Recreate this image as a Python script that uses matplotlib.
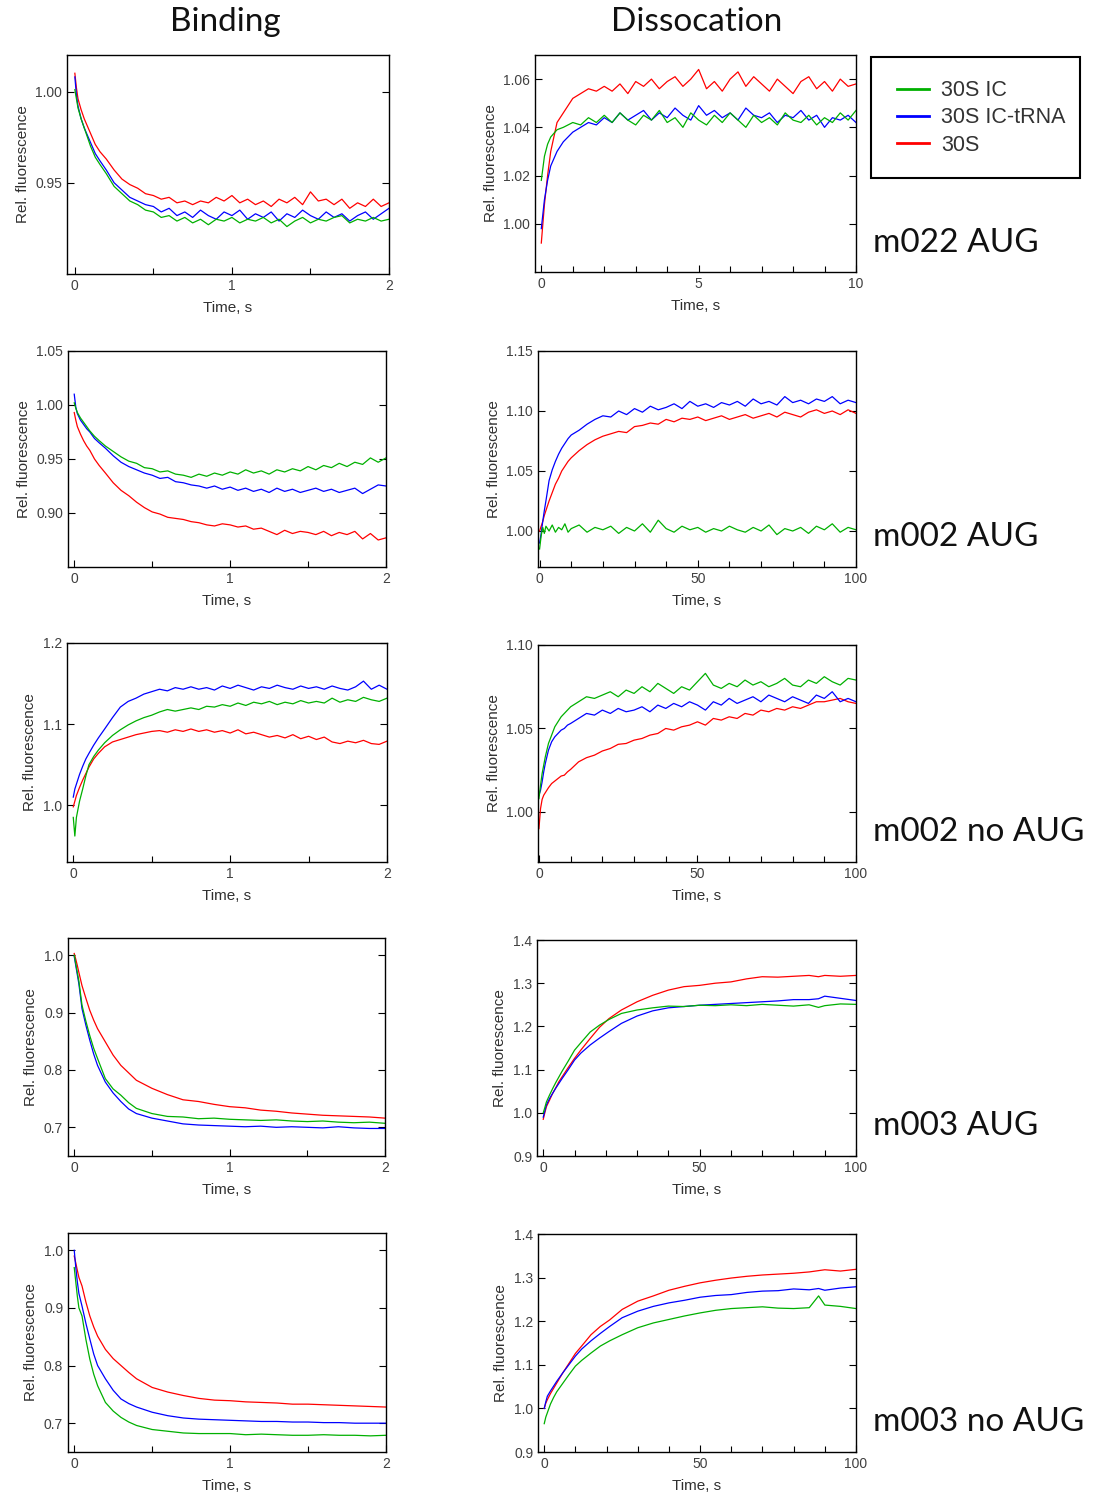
import matplotlib
matplotlib.use("Agg")
import matplotlib.pyplot as plt
from matplotlib.patches import Rectangle
from matplotlib.ticker import MultipleLocator, FormatStrFormatter

# series names and colours
labels = ['30S IC', '30S IC-tRNA', '30S']
colors = {'30S IC': '#00b000', '30S IC-tRNA': '#0000ff', '30S': '#ff0000'}

col_titles = ['Binding', 'Dissocation']
row_titles = ['m022 AUG', 'm002 AUG', 'm002 no AUG', 'm003 AUG', 'm003 no AUG']

# time grids (s)
t_bind = [0, 0.01, 0.02, 0.04, 0.06, 0.08, 0.1, 0.13, 0.16, 0.2,
          0.25, 0.3, 0.35, 0.4, 0.45, 0.5, 0.55, 0.6, 0.65, 0.7, 0.75, 0.8,
          0.85, 0.9, 0.95, 1.0, 1.05, 1.1, 1.15, 1.2, 1.25, 1.3, 1.35, 1.4,
          1.45, 1.5, 1.55, 1.6, 1.65, 1.7, 1.75, 1.8, 1.85, 1.9, 1.95, 2.0]
t_bind_s = [0, 0.01, 0.02, 0.03, 0.05, 0.075, 0.1, 0.125, 0.15, 0.2, 0.25,
            0.3, 0.35, 0.4, 0.5, 0.6, 0.7, 0.8, 0.9, 1.0, 1.1, 1.2, 1.3, 1.4,
            1.5, 1.6, 1.7, 1.8, 1.9, 2.0]
t_diss10 = [0, 0.1, 0.2, 0.3, 0.5, 0.7, 1.0, 1.25, 1.5, 1.75,
            2.0, 2.25, 2.5, 2.75, 3.0, 3.25, 3.5, 3.75, 4.0, 4.25, 4.5, 4.75,
            5.0, 5.25, 5.5, 5.75, 6.0, 6.25, 6.5, 6.75, 7.0, 7.25, 7.5, 7.75,
            8.0, 8.25, 8.5, 8.75, 9.0, 9.25, 9.5, 9.75, 10.0]
t_diss = [0, 0.5, 1, 1.5, 2, 3, 4, 5, 6, 7, 8, 9,
          10, 12.5, 15, 17.5, 20, 22.5, 25, 27.5, 30, 32.5, 35, 37.5, 40,
          42.5, 45, 47.5, 50, 52.5, 55, 57.5, 60, 62.5, 65, 67.5, 70, 72.5,
          75, 77.5, 80, 82.5, 85, 87.5, 90, 92.5, 95, 97.5, 100]
t_diss_s = [0, 0.5, 1, 2, 3, 4, 5, 6, 8, 10, 12, 15, 18, 21, 25, 30, 35, 40,
            45, 50, 55, 60, 65, 70, 75, 80, 85, 88, 90, 95, 100]

# --- m022 AUG ---
m022_bind_ic = [1.001, 0.996, 0.991, 0.985, 0.980, 0.975, 0.970, 0.964, 0.960, 0.955,
                0.948, 0.944, 0.940, 0.938, 0.935, 0.934, 0.931, 0.932, 0.929, 0.931,
                0.928, 0.930, 0.927, 0.930, 0.929, 0.931, 0.928, 0.930, 0.929, 0.931,
                0.928, 0.930, 0.926, 0.929, 0.931, 0.928, 0.930, 0.929, 0.931, 0.932,
                0.928, 0.930, 0.929, 0.931, 0.929, 0.930]
m022_bind_trna = [1.008, 0.998, 0.992, 0.985, 0.980, 0.976, 0.972, 0.966, 0.962, 0.957,
                  0.950, 0.946, 0.942, 0.940, 0.938, 0.937, 0.934, 0.936, 0.932, 0.934,
                  0.931, 0.935, 0.932, 0.930, 0.934, 0.932, 0.935, 0.930, 0.933, 0.931,
                  0.934, 0.929, 0.933, 0.931, 0.935, 0.932, 0.930, 0.934, 0.931, 0.933,
                  0.929, 0.932, 0.934, 0.930, 0.933, 0.936]
m022_bind_30s = [1.010, 1.002, 0.996, 0.990, 0.985, 0.981, 0.977, 0.971, 0.967, 0.963,
                 0.957, 0.952, 0.949, 0.947, 0.944, 0.943, 0.941, 0.942, 0.939, 0.940,
                 0.938, 0.940, 0.939, 0.942, 0.940, 0.943, 0.939, 0.941, 0.938, 0.940,
                 0.937, 0.941, 0.939, 0.942, 0.938, 0.945, 0.940, 0.941, 0.938, 0.941,
                 0.936, 0.939, 0.937, 0.941, 0.937, 0.939]
m022_diss_ic = [1.018, 1.028, 1.033, 1.036, 1.039, 1.040, 1.042, 1.041, 1.044, 1.042,
                1.045, 1.042, 1.046, 1.043, 1.041, 1.045, 1.043, 1.047, 1.042, 1.044,
                1.040, 1.046, 1.043, 1.041, 1.045, 1.042, 1.046, 1.043, 1.040, 1.045,
                1.042, 1.044, 1.041, 1.046, 1.043, 1.042, 1.045, 1.041, 1.044, 1.042,
                1.046, 1.043, 1.047]
m022_diss_trna = [0.998, 1.010, 1.018, 1.024, 1.030, 1.034, 1.038, 1.040, 1.042, 1.041,
                  1.044, 1.042, 1.046, 1.043, 1.045, 1.047, 1.043, 1.046, 1.044, 1.048,
                  1.045, 1.043, 1.049, 1.045, 1.047, 1.044, 1.046, 1.043, 1.048, 1.045,
                  1.044, 1.046, 1.042, 1.045, 1.044, 1.047, 1.043, 1.045, 1.040, 1.044,
                  1.043, 1.045, 1.042]
m022_diss_30s = [0.992, 1.008, 1.020, 1.030, 1.042, 1.046, 1.052, 1.054, 1.056, 1.055,
                 1.057, 1.055, 1.058, 1.054, 1.059, 1.057, 1.060, 1.056, 1.059, 1.061,
                 1.057, 1.060, 1.064, 1.056, 1.059, 1.055, 1.060, 1.063, 1.057, 1.061,
                 1.058, 1.055, 1.060, 1.057, 1.054, 1.059, 1.061, 1.056, 1.059, 1.055,
                 1.060, 1.057, 1.058]

# --- m002 AUG ---
m002_bind_ic = [1.002, 0.997, 0.993, 0.988, 0.984, 0.980, 0.976, 0.971, 0.967, 0.962,
                0.957, 0.952, 0.948, 0.946, 0.942, 0.941, 0.938, 0.939, 0.936, 0.935,
                0.933, 0.936, 0.934, 0.937, 0.935, 0.938, 0.936, 0.940, 0.937, 0.939,
                0.936, 0.940, 0.938, 0.941, 0.939, 0.943, 0.940, 0.944, 0.942, 0.946,
                0.943, 0.947, 0.945, 0.951, 0.947, 0.951]
m002_bind_trna = [1.010, 0.998, 0.992, 0.986, 0.982, 0.978, 0.975, 0.969, 0.965, 0.960,
                  0.953, 0.947, 0.943, 0.940, 0.937, 0.935, 0.932, 0.933, 0.929, 0.928,
                  0.926, 0.925, 0.923, 0.925, 0.922, 0.924, 0.921, 0.923, 0.920, 0.922,
                  0.919, 0.923, 0.920, 0.922, 0.919, 0.921, 0.923, 0.920, 0.922, 0.919,
                  0.921, 0.923, 0.918, 0.922, 0.926, 0.925]
m002_bind_30s = [0.993, 0.986, 0.980, 0.973, 0.967, 0.962, 0.958, 0.950, 0.944, 0.937,
                 0.928, 0.921, 0.916, 0.910, 0.905, 0.901, 0.899, 0.896, 0.895, 0.894,
                 0.892, 0.891, 0.889, 0.888, 0.890, 0.889, 0.887, 0.888, 0.885, 0.886,
                 0.883, 0.880, 0.884, 0.881, 0.883, 0.882, 0.880, 0.883, 0.879, 0.882,
                 0.880, 0.883, 0.876, 0.881, 0.875, 0.877]
m002_diss_ic = [0.985, 0.996, 1.003, 0.998, 1.004, 1.000, 1.005, 0.999, 1.003, 1.001,
                1.006, 0.999, 1.002, 1.005, 0.999, 1.003, 1.001, 1.004, 0.998, 1.003,
                1.000, 1.006, 0.999, 1.009, 1.002, 0.999, 1.004, 1.001, 1.003, 0.999,
                1.002, 1.000, 1.004, 1.001, 0.999, 1.003, 1.000, 1.005, 0.997, 1.002,
                1.000, 1.003, 0.998, 1.004, 1.001, 1.006, 0.999, 1.003, 1.001]
m002_diss_trna = [0.990, 0.998, 1.008, 1.017, 1.025, 1.042, 1.051, 1.058, 1.064, 1.069,
                  1.073, 1.077, 1.080, 1.084, 1.089, 1.093, 1.096, 1.095, 1.100, 1.097,
                  1.102, 1.099, 1.104, 1.101, 1.103, 1.106, 1.102, 1.108, 1.104, 1.106,
                  1.103, 1.107, 1.105, 1.108, 1.104, 1.110, 1.106, 1.108, 1.105, 1.112,
                  1.107, 1.109, 1.106, 1.110, 1.108, 1.112, 1.106, 1.109, 1.107]
m002_diss_30s = [1.000, 1.004, 1.008, 1.013, 1.017, 1.025, 1.032, 1.039, 1.044, 1.050,
                 1.054, 1.058, 1.061, 1.067, 1.072, 1.076, 1.079, 1.081, 1.083, 1.082,
                 1.087, 1.088, 1.090, 1.089, 1.093, 1.091, 1.094, 1.093, 1.095, 1.092,
                 1.094, 1.096, 1.093, 1.095, 1.097, 1.094, 1.096, 1.098, 1.095, 1.099,
                 1.097, 1.095, 1.099, 1.101, 1.098, 1.100, 1.097, 1.101, 1.098]

# --- m002 no AUG ---
m002n_bind_ic = [0.985, 0.962, 0.985, 1.005, 1.020, 1.036, 1.050, 1.060, 1.068, 1.077,
                 1.086, 1.093, 1.099, 1.104, 1.108, 1.111, 1.115, 1.118, 1.116, 1.118,
                 1.120, 1.118, 1.122, 1.121, 1.124, 1.122, 1.126, 1.123, 1.127, 1.125,
                 1.128, 1.124, 1.127, 1.125, 1.129, 1.126, 1.128, 1.126, 1.132, 1.127,
                 1.130, 1.128, 1.133, 1.130, 1.128, 1.132]
m002n_bind_trna = [1.010, 1.020, 1.026, 1.038, 1.048, 1.057, 1.064, 1.074, 1.083, 1.094,
                   1.108, 1.121, 1.128, 1.132, 1.137, 1.140, 1.143, 1.141, 1.145, 1.143,
                   1.146, 1.143, 1.145, 1.142, 1.147, 1.144, 1.148, 1.145, 1.142, 1.146,
                   1.144, 1.148, 1.145, 1.143, 1.147, 1.144, 1.146, 1.143, 1.147, 1.144,
                   1.142, 1.146, 1.153, 1.143, 1.148, 1.143]
m002n_bind_30s = [0.998, 1.005, 1.012, 1.022, 1.031, 1.039, 1.047, 1.057, 1.064, 1.072,
                  1.078, 1.081, 1.084, 1.087, 1.089, 1.091, 1.092, 1.090, 1.093, 1.091,
                  1.094, 1.091, 1.093, 1.090, 1.092, 1.089, 1.093, 1.088, 1.090, 1.087,
                  1.084, 1.086, 1.083, 1.087, 1.082, 1.085, 1.081, 1.084, 1.078, 1.076,
                  1.079, 1.077, 1.080, 1.076, 1.075, 1.079]
m002n_diss_ic = [1.008, 1.016, 1.023, 1.028, 1.033, 1.041, 1.046, 1.051, 1.054, 1.057,
                 1.059, 1.061, 1.063, 1.066, 1.069, 1.068, 1.070, 1.072, 1.069, 1.073,
                 1.071, 1.075, 1.072, 1.077, 1.074, 1.071, 1.075, 1.073, 1.078, 1.083,
                 1.076, 1.074, 1.077, 1.075, 1.079, 1.076, 1.078, 1.075, 1.077, 1.080,
                 1.076, 1.075, 1.079, 1.077, 1.081, 1.078, 1.076, 1.080, 1.079]
m002n_diss_trna = [1.010, 1.013, 1.018, 1.024, 1.029, 1.037, 1.042, 1.045, 1.047, 1.049,
                   1.050, 1.052, 1.053, 1.056, 1.059, 1.058, 1.061, 1.059, 1.062, 1.060,
                   1.061, 1.063, 1.060, 1.064, 1.062, 1.065, 1.063, 1.066, 1.064, 1.061,
                   1.066, 1.064, 1.068, 1.065, 1.067, 1.069, 1.066, 1.070, 1.068, 1.066,
                   1.069, 1.067, 1.065, 1.070, 1.068, 1.072, 1.066, 1.068, 1.066]
m002n_diss_30s = [0.990, 1.002, 1.0075, 1.010, 1.0115, 1.0145, 1.017, 1.0185, 1.020,
                  1.0215, 1.022, 1.024, 1.0255, 1.030, 1.0325, 1.034, 1.0365, 1.038,
                  1.0405, 1.041, 1.043, 1.044, 1.046, 1.047, 1.050, 1.049, 1.051, 1.052,
                  1.054, 1.052, 1.056, 1.055, 1.057, 1.056, 1.059, 1.058, 1.061, 1.060,
                  1.062, 1.061, 1.063, 1.062, 1.064, 1.066, 1.066, 1.067, 1.068, 1.066,
                  1.065]

# --- m003 AUG ---
m003_bind_ic = [1.000, 0.985, 0.970, 0.955, 0.913, 0.885, 0.860, 0.838, 0.820, 0.785,
                0.767, 0.756, 0.743, 0.733, 0.724, 0.719, 0.718, 0.715, 0.716, 0.714,
                0.713, 0.712, 0.713, 0.711, 0.710, 0.711, 0.709, 0.708, 0.709, 0.707]
m003_bind_trna = [0.998, 0.982, 0.966, 0.950, 0.907, 0.878, 0.852, 0.828, 0.808, 0.779,
                  0.760, 0.745, 0.732, 0.724, 0.716, 0.711, 0.706, 0.704, 0.703, 0.702,
                  0.701, 0.702, 0.700, 0.701, 0.700, 0.699, 0.701, 0.699, 0.698, 0.698]
m003_bind_30s = [1.003, 0.993, 0.982, 0.970, 0.947, 0.925, 0.904, 0.887, 0.872, 0.849,
                 0.826, 0.808, 0.795, 0.782, 0.768, 0.757, 0.748, 0.745, 0.740, 0.736,
                 0.734, 0.730, 0.728, 0.725, 0.723, 0.721, 0.720, 0.719, 0.718, 0.716]
m003_diss_ic = [1.000, 1.012, 1.025, 1.041, 1.056, 1.070, 1.083, 1.096, 1.120, 1.145,
                1.162, 1.187, 1.203, 1.216, 1.230, 1.238, 1.243, 1.247, 1.246, 1.249,
                1.248, 1.250, 1.248, 1.251, 1.249, 1.247, 1.250, 1.244, 1.248, 1.252,
                1.251]
m003_diss_trna = [0.990, 1.004, 1.018, 1.033, 1.045, 1.057, 1.068, 1.079, 1.100, 1.122,
                  1.138, 1.157, 1.173, 1.188, 1.207, 1.224, 1.236, 1.243, 1.246, 1.249,
                  1.251, 1.253, 1.255, 1.257, 1.259, 1.262, 1.262, 1.264, 1.270, 1.265,
                  1.260]
m003_diss_30s = [0.985, 1.000, 1.014, 1.029, 1.045, 1.058, 1.072, 1.083, 1.105, 1.126,
                 1.145, 1.172, 1.198, 1.218, 1.238, 1.257, 1.272, 1.284, 1.292, 1.295,
                 1.300, 1.303, 1.310, 1.315, 1.314, 1.316, 1.318, 1.315, 1.318, 1.316,
                 1.318]

# --- m003 no AUG ---
m003n_bind_ic = [0.970, 0.945, 0.920, 0.900, 0.886, 0.845, 0.811, 0.785, 0.765, 0.736,
                 0.721, 0.710, 0.702, 0.696, 0.689, 0.686, 0.683, 0.682, 0.682, 0.682,
                 0.680, 0.681, 0.680, 0.679, 0.679, 0.680, 0.679, 0.679, 0.678, 0.679]
m003n_bind_trna = [1.000, 0.970, 0.945, 0.925, 0.903, 0.873, 0.846, 0.820, 0.800, 0.777,
                   0.757, 0.742, 0.734, 0.728, 0.719, 0.713, 0.709, 0.707, 0.706, 0.705,
                   0.704, 0.703, 0.703, 0.702, 0.702, 0.701, 0.701, 0.700, 0.700, 0.700]
m003n_bind_30s = [0.990, 0.978, 0.965, 0.953, 0.938, 0.910, 0.886, 0.867, 0.851, 0.828,
                  0.812, 0.800, 0.788, 0.777, 0.762, 0.754, 0.748, 0.743, 0.740, 0.739,
                  0.737, 0.736, 0.735, 0.733, 0.733, 0.732, 0.731, 0.730, 0.729, 0.728]
m003n_diss_ic = [0.965, 0.980, 0.990, 1.010, 1.025, 1.038, 1.048, 1.058, 1.078, 1.097,
                 1.110, 1.127, 1.143, 1.155, 1.169, 1.185, 1.196, 1.204, 1.212, 1.219,
                 1.225, 1.229, 1.231, 1.233, 1.230, 1.229, 1.231, 1.258, 1.237, 1.234,
                 1.229]
m003n_diss_trna = [1.000, 1.015, 1.028, 1.040, 1.051, 1.062, 1.072, 1.082, 1.101, 1.120,
                   1.136, 1.155, 1.172, 1.188, 1.208, 1.223, 1.234, 1.242, 1.248, 1.255,
                   1.259, 1.261, 1.266, 1.269, 1.270, 1.274, 1.272, 1.275, 1.271, 1.276,
                   1.279]
m003n_diss_30s = [1.000, 1.012, 1.020, 1.034, 1.046, 1.058, 1.070, 1.082, 1.104, 1.126,
                  1.143, 1.169, 1.188, 1.203, 1.227, 1.246, 1.258, 1.271, 1.280, 1.288,
                  1.294, 1.299, 1.303, 1.306, 1.308, 1.310, 1.313, 1.316, 1.318, 1.315,
                  1.319]

# panels: (time, [IC, IC-tRNA, 30S], xlim, ylim, yticks, y format, x major, x minor)
panels = [
    [(t_bind, [m022_bind_ic, m022_bind_trna, m022_bind_30s], (-0.05, 2), (0.90, 1.02), [0.95, 1.00], '%.2f', 1, 0.5),
     (t_diss10, [m022_diss_ic, m022_diss_trna, m022_diss_30s], (-0.2, 10), (0.98, 1.07), [1.00, 1.02, 1.04, 1.06], '%.2f', 5, 1)],
    [(t_bind, [m002_bind_ic, m002_bind_trna, m002_bind_30s], (-0.04, 2), (0.85, 1.05), [0.90, 0.95, 1.00, 1.05], '%.2f', 1, 0.5),
     (t_diss, [m002_diss_ic, m002_diss_trna, m002_diss_30s], (-0.5, 100), (0.97, 1.15), [1.00, 1.05, 1.10, 1.15], '%.2f', 50, 10)],
    [(t_bind, [m002n_bind_ic, m002n_bind_trna, m002n_bind_30s], (-0.04, 2), (0.93, 1.2), [1.0, 1.1, 1.2], '%.1f', 1, 0.5),
     (t_diss, [m002n_diss_ic, m002n_diss_trna, m002n_diss_30s], (-0.3, 100), (0.97, 1.10), [1.00, 1.05, 1.10], '%.2f', 50, 10)],
    [(t_bind_s, [m003_bind_ic, m003_bind_trna, m003_bind_30s], (-0.04, 2), (0.65, 1.03), [0.7, 0.8, 0.9, 1.0], '%.1f', 1, 0.5),
     (t_diss_s, [m003_diss_ic, m003_diss_trna, m003_diss_30s], (-2, 100), (0.9, 1.4), [0.9, 1.0, 1.1, 1.2, 1.3, 1.4], '%.1f', 50, 10)],
    [(t_bind_s, [m003n_bind_ic, m003n_bind_trna, m003n_bind_30s], (-0.04, 2), (0.65, 1.03), [0.7, 0.8, 0.9, 1.0], '%.1f', 1, 0.5),
     (t_diss_s, [m003n_diss_ic, m003n_diss_trna, m003n_diss_30s], (-2, 100), (0.9, 1.4), [0.9, 1.0, 1.1, 1.2, 1.3, 1.4], '%.1f', 50, 10)],
]

W, H = 1093, 1501
# axes boxes in pixels (left, top, right, bottom)
boxes = [
    [(67, 55, 389, 274), (535, 55, 856, 272)],
    [(68, 351, 386, 567), (538, 351, 856, 567)],
    [(67, 643, 387, 862), (538, 645, 856, 862)],
    [(68, 938, 385, 1156), (537, 940, 856, 1156)],
    [(68, 1233, 386, 1452), (538, 1234, 856, 1452)],
]
row_label_y = [243, 537, 832, 1126, 1422]

plt.rcParams['font.family'] = ['Liberation Sans', 'DejaVu Sans']

fig = plt.figure(figsize=(W / 100, H / 100), dpi=100)

handles = None
for r in range(5):
    for c in range(2):
        t, ys, xl, yl, yt, fmt, xmaj, xmin = panels[r][c]
        l, tp, rt, bt = boxes[r][c]
        ax = fig.add_axes([l / W, 1 - bt / H, (rt - l) / W, (bt - tp) / H])
        # draw order: red underneath, blue on top
        lines = {}
        for name, y in zip(labels[::-1], ys[::-1]):
            lines[name], = ax.plot(t, y, color=colors[name], lw=0.9, label=name)
        if handles is None:
            handles = [lines[n] for n in labels]
        ax.set_xlim(*xl)
        ax.set_ylim(*yl)
        ax.set_yticks(yt)
        ax.yaxis.set_major_formatter(FormatStrFormatter(fmt))
        ax.xaxis.set_major_locator(MultipleLocator(xmaj))
        ax.xaxis.set_minor_locator(MultipleLocator(xmin))
        ax.tick_params(which='both', direction='in', right=True, top=False,
                       labelsize=10, labelcolor='#404040', width=0.8)
        ax.tick_params(which='major', length=5)
        ax.tick_params(which='minor', length=4)
        for s in ax.spines.values():
            s.set_linewidth(1.0)
        ax.set_xlabel('Time, s', fontsize=11, color='#303030', labelpad=6)
        ax.set_ylabel('Rel. fluorescence', fontsize=11, color='#303030', labelpad=4)

# column titles and row labels
for c, title in enumerate(col_titles):
    cx = [225, 697][c]
    fig.text(cx / W, 1 - 22 / H, title, fontsize=24, family='Lato',
             ha='center', va='center', color='#111111')
for r, name in enumerate(row_titles):
    fig.text(873 / W, 1 - row_label_y[r] / H, name, fontsize=24, family='Lato',
             ha='left', va='center', color='#111111')

# legend: entries placed without frame, box drawn separately
leg = fig.legend(handles, labels, loc='center left',
                 bbox_to_anchor=(897 / W, 1 - 118 / H), fontsize=15.5,
                 frameon=False, handlelength=1.5, handletextpad=0.55,
                 borderpad=0, labelspacing=0.3, borderaxespad=0)
for txt in leg.get_texts():
    txt.set_color('#333333')
for ln in leg.get_lines():
    ln.set_linewidth(2)
fig.patches.append(Rectangle((871 / W, 1 - 178 / H), 209 / W, 121 / H,
                             transform=fig.transFigure, fill=False,
                             edgecolor='black', linewidth=1.5))

fig.savefig('out.png', dpi=100)
